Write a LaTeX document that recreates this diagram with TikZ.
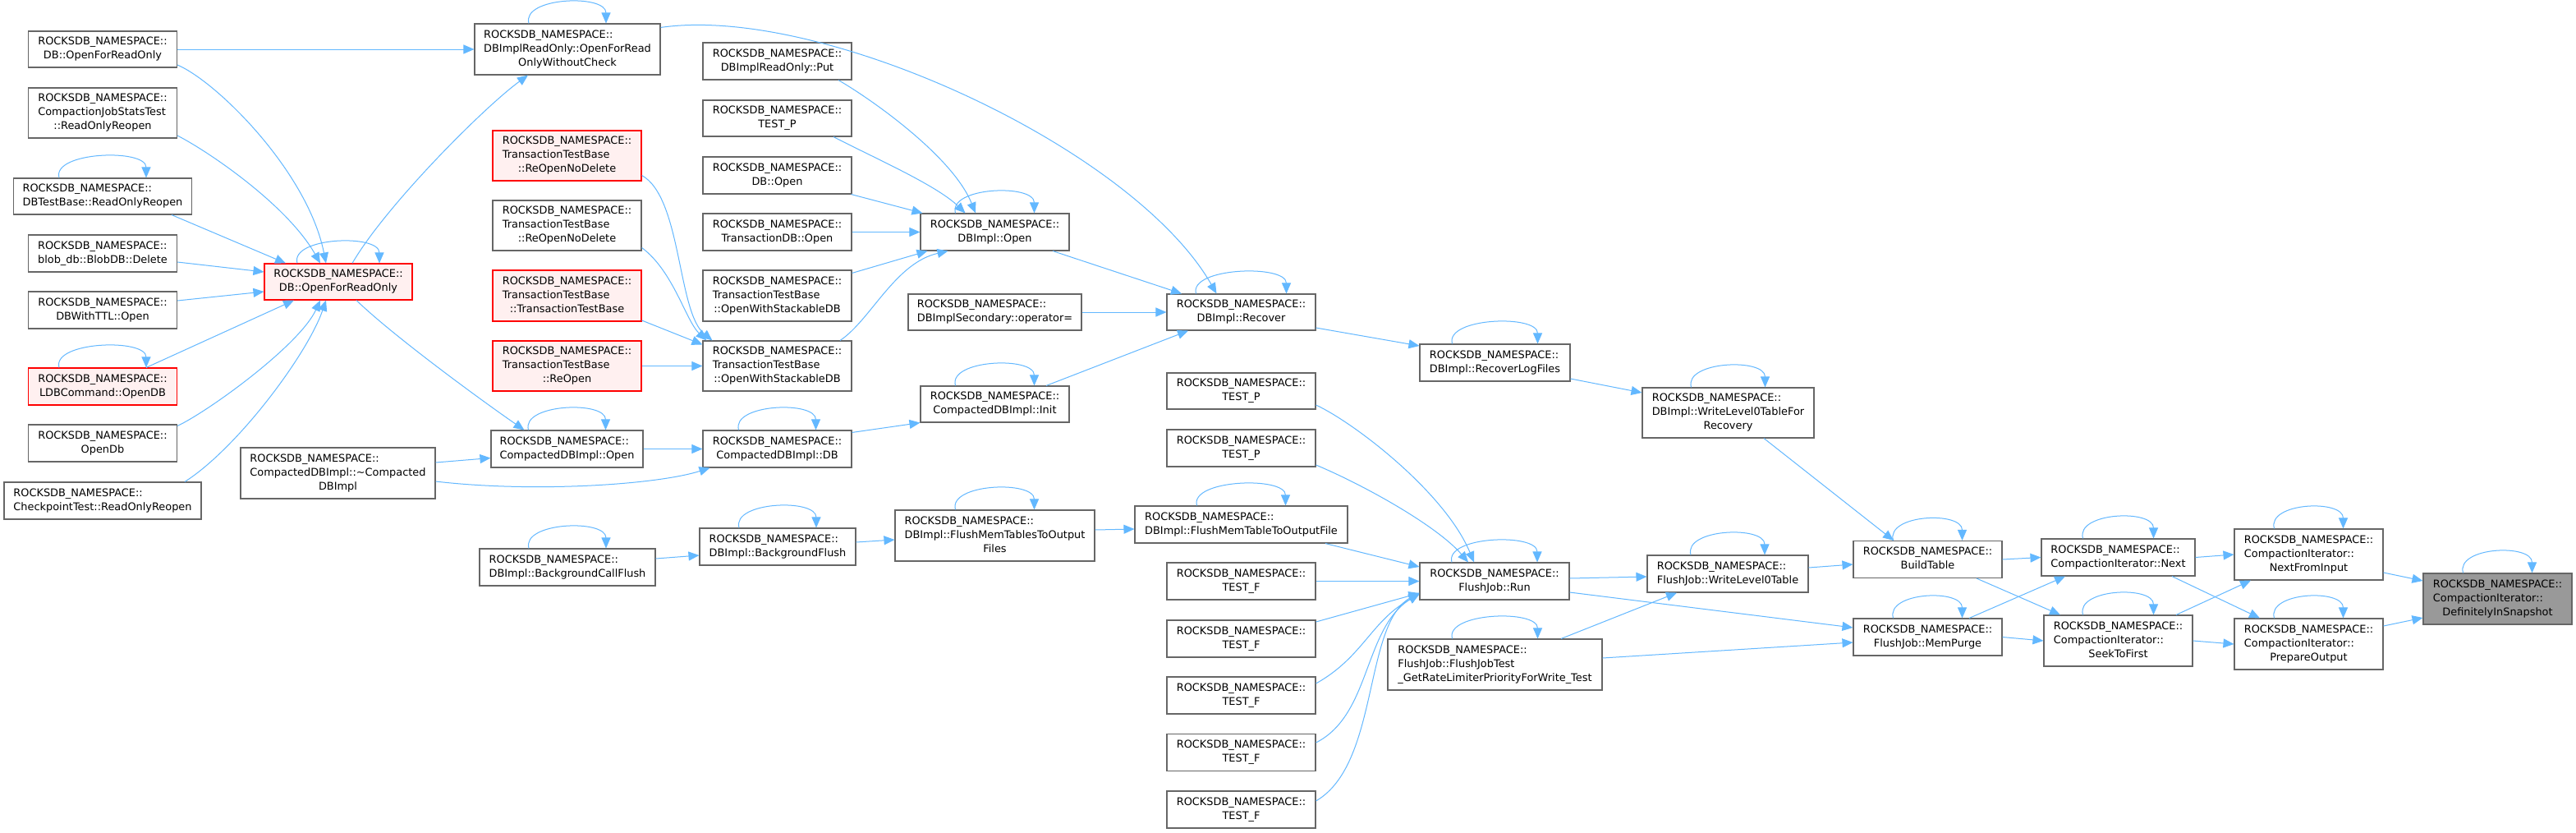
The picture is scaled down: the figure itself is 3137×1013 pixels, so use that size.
\documentclass[tikz,border=0pt]{standalone}
\usepackage{fontspec}
\setmainfont{DejaVu Sans}
\usetikzlibrary{arrows.meta}
\definecolor{edgec}{HTML}{63B8FF}
\definecolor{boxc}{HTML}{666666}
\definecolor{redc}{HTML}{FF0000}
\definecolor{redf}{HTML}{FFF0F0}
\definecolor{grayf}{HTML}{999999}
\newcommand{\LL}[2]{\begin{tabular}{@{}l@{}}#1\\\multicolumn{1}{@{}c@{}}{#2}\end{tabular}}
\newcommand{\LLL}[3]{\begin{tabular}{@{}l@{}}#1\\#2\\\multicolumn{1}{@{}c@{}}{#3}\end{tabular}}
\newcommand{\RN}{ROCKSDB\_NAMESPACE::}
\newcommand{\myloop}[2][47]{\draw[conn] ([xshift=-#1pt]#2.north) .. controls +(-9pt,32pt) and +(0pt,36pt) .. ([xshift=#1pt]#2.north);}
\tikzset{
  nd/.style={draw=boxc, fill=white, line width=1.1pt, inner sep=0pt, font=\fontsize{12.9}{17}\selectfont},
  redn/.style={nd, draw=redc, fill=redf},
  hin/.style={nd, fill=grayf},
  sz/.style 2 args={minimum width=#1pt, minimum height=#2pt},
  conn/.style={draw=edgec, line width=1pt, -{Triangle[length=13pt,width=11pt]}},
}
\begin{document}
\begin{tikzpicture}[x=1pt,y=-1pt]
\fill[white] (0,0) rectangle (3137,1013);
\useasboundingbox (0,0) rectangle (3137,1013);
% column A
\node[nd,sz={181}{44}] (a1) at (125,60) {\LL{\RN}{DB::OpenForReadOnly}};
\node[nd,sz={181}{61}] (a2) at (125,137.5) {\LLL{\RN}{CompactionJobStatsTest}{::ReadOnlyReopen}};
\node[nd,sz={217}{44}] (a3) at (125,239) {\LL{\RN}{DBTestBase::ReadOnlyReopen}};
\node[nd,sz={181}{45}] (a4) at (125,308.5) {\LL{\RN}{blob\_db::BlobDB::Delete}};
\node[nd,sz={181}{45}] (a5) at (125,377.5) {\LL{\RN}{DBWithTTL::Open}};
\node[redn,sz={181}{45}] (a6) at (125,470.5) {\LL{\RN}{LDBCommand::OpenDB}};
\node[nd,sz={181}{45}] (a7) at (125,539.5) {\LL{\RN}{OpenDb}};
\node[nd,sz={240}{45}] (a8) at (125,609.5) {\LL{\RN}{CheckpointTest::ReadOnlyReopen}};
% column B
\node[redn,sz={180}{44}] (b1) at (412,343) {\LL{\RN}{DB::OpenForReadOnly}};
\node[nd,sz={237}{62}] (b2) at (411.5,576) {\LLL{\RN}{CompactedDBImpl::\textasciitilde Compacted}{DBImpl}};
% column C
\node[nd,sz={226}{62}] (c1) at (691,60) {\LLL{\RN}{DBImplReadOnly::OpenForRead}{OnlyWithoutCheck}};
\node[redn,sz={181}{61}] (c2) at (690.5,189.5) {\LLL{\RN}{TransactionTestBase}{::ReOpenNoDelete}};
\node[nd,sz={181}{61}] (c3) at (690.5,274.5) {\LLL{\RN}{TransactionTestBase}{::ReOpenNoDelete}};
\node[redn,sz={181}{62}] (c4) at (690.5,360) {\LLL{\RN}{TransactionTestBase}{::TransactionTestBase}};
\node[redn,sz={181}{61}] (c5) at (690.5,445.5) {\LLL{\RN}{TransactionTestBase}{::ReOpen}};
\node[nd,sz={185}{45}] (c6) at (690.5,546.5) {\LL{\RN}{CompactedDBImpl::Open}};
\node[nd,sz={214}{45}] (c7) at (691,690.5) {\LL{\RN}{DBImpl::BackgroundCallFlush}};
% column D
\node[nd,sz={181}{45}] (d1) at (946.5,74.5) {\LL{\RN}{DBImplReadOnly::Put}};
\node[nd,sz={181}{44}] (d2) at (946.5,144) {\LL{\RN}{TEST\_P}};
\node[nd,sz={181}{45}] (d3) at (946.5,213.5) {\LL{\RN}{DB::Open}};
\node[nd,sz={181}{45}] (d4) at (946.5,282.5) {\LL{\RN}{TransactionDB::Open}};
\node[nd,sz={181}{62}] (d5) at (946.5,360) {\LLL{\RN}{TransactionTestBase}{::OpenWithStackableDB}};
\node[nd,sz={181}{61}] (d6) at (946.5,445.5) {\LLL{\RN}{TransactionTestBase}{::OpenWithStackableDB}};
\node[nd,sz={181}{45}] (d7) at (946.5,546.5) {\LL{\RN}{CompactedDBImpl::DB}};
\node[nd,sz={190}{45}] (d8) at (947,665.5) {\LL{\RN}{DBImpl::BackgroundFlush}};
% column E
\node[nd,sz={181}{45}] (e1) at (1211.5,282.5) {\LL{\RN}{DBImpl::Open}};
\node[nd,sz={211}{44}] (e2) at (1211.5,380) {\LL{\RN}{DBImplSecondary::operator=}};
\node[nd,sz={181}{44}] (e3) at (1211.5,492) {\LL{\RN}{CompactedDBImpl::Init}};
\node[nd,sz={243}{62}] (e4) at (1211.5,652) {\LLL{\RN}{DBImpl::FlushMemTablesToOutput}{Files}};
% column F
\node[nd,sz={181}{44}] (f1) at (1511.5,380) {\LL{\RN}{DBImpl::Recover}};
\node[nd,sz={181}{44}] (f2) at (1511.5,476) {\LL{\RN}{TEST\_P}};
\node[nd,sz={181}{45}] (f3) at (1511.5,545.5) {\LL{\RN}{TEST\_P}};
\node[nd,sz={259}{45}] (f4) at (1511.5,638.5) {\LL{\RN}{DBImpl::FlushMemTableToOutputFile}};
\node[nd,sz={181}{45}] (f5) at (1511.5,707.5) {\LL{\RN}{TEST\_F}};
\node[nd,sz={181}{45}] (f6) at (1511.5,777.5) {\LL{\RN}{TEST\_F}};
\node[nd,sz={181}{45}] (f7) at (1511.5,846.5) {\LL{\RN}{TEST\_F}};
\node[nd,sz={181}{45}] (f8) at (1511.5,916) {\LL{\RN}{TEST\_F}};
\node[nd,sz={181}{45}] (f9) at (1511.5,985.5) {\LL{\RN}{TEST\_F}};
% column G
\node[nd,sz={183}{45}] (g1) at (1820.5,441.5) {\LL{\RN}{DBImpl::RecoverLogFiles}};
\node[nd,sz={182}{45}] (g2) at (1820,707.5) {\LL{\RN}{FlushJob::Run}};
\node[nd,sz={261}{62}] (g3) at (1820.5,809) {\LLL{\RN}{FlushJob::FlushJobTest}{\_GetRateLimiterPriorityForWrite\_Test}};
% column H
\node[nd,sz={209}{61}] (h1) at (2104.5,502.5) {\LLL{\RN}{DBImpl::WriteLevel0TableFor}{Recovery}};
\node[nd,sz={196}{45}] (h2) at (2104,698.5) {\LL{\RN}{FlushJob::WriteLevel0Table}};
% column I
\node[nd,sz={181}{45}] (i1) at (2347.5,681) {\LL{\RN}{BuildTable}};
\node[nd,sz={181}{45}] (i2) at (2347.5,775.5) {\LL{\RN}{FlushJob::MemPurge}};
% column J
\node[nd,sz={187}{45}] (j1) at (2579.5,678.5) {\LL{\RN}{CompactionIterator::Next}};
\node[nd,sz={181}{62}] (j2) at (2579.5,780) {\LLL{\RN}{CompactionIterator::}{SeekToFirst}};
% column K
\node[nd,sz={181}{62}] (k1) at (2811.5,675) {\LLL{\RN}{CompactionIterator::}{NextFromInput}};
\node[nd,sz={181}{62}] (k2) at (2811.5,784) {\LLL{\RN}{CompactionIterator::}{PrepareOutput}};
% column L
\node[hin,sz={181}{62}] (l1) at (3041.5,729) {\LLL{\RN}{CompactionIterator::}{DefinitelyInSnapshot}};

% edges
\draw[conn] (a1.east) -- (c1.west);
\draw[conn] ([yshift=-19pt]a1.east) .. controls (265,100) and (375,210) .. ([xshift=-15pt]b1.north);
\draw[conn] ([yshift=-27.5pt]a2.east) .. controls (255,185) and (350,250) .. ([xshift=-22pt]b1.north);
\draw[conn] ([xshift=84pt]a3.south) -- ([xshift=-64pt]b1.north);
\draw[conn] ([yshift=-10.5pt]a4.east) -- ([yshift=12pt]b1.west);
\draw[conn] ([yshift=11.5pt]a5.east) -- ([yshift=-12pt]b1.west);
\draw[conn] ([xshift=53pt]a6.north) -- ([xshift=-54pt]b1.south);
\draw[conn] ([yshift=21pt]a7.east) .. controls (255,500) and (365,420) .. ([xshift=-22pt]b1.south);
\draw[conn] ([xshift=100pt]a8.north) .. controls (290,545) and (375,430) .. ([xshift=-15pt]b1.south);
\draw[conn] ([xshift=17pt]b1.north) .. controls (470,250) and (590,130) .. ([xshift=-48pt]c1.south);
\draw[conn] ([xshift=22pt]b1.south) .. controls (480,410) and (590,490) .. ([xshift=-52pt]c6.north);
\draw[conn] ([yshift=13pt]b2.east) -- ([yshift=-11pt]c6.west);
\draw[conn] ([yshift=-10pt]b2.east) .. controls (650,600) and (800,590) .. ([xshift=-82pt]d7.south);
\draw[conn] ([yshift=-24pt]c2.east) .. controls (830,240) and (825,380) .. ([xshift=12pt]d6.north west);
\draw[conn] ([yshift=-27pt]c3.east) .. controls (820,330) and (835,390) .. ([xshift=5pt]d6.north west);
\draw[conn] ([yshift=-30pt]c4.east) -- ([yshift=-5pt]d6.north west);
\draw[conn] (c5.east) -- (d6.west);
\draw[conn] (c6.east) -- (d7.west);
\draw[conn] ([yshift=10.5pt]c7.east) -- ([yshift=-10.5pt]d8.west);
\draw[conn] ([xshift=74.5pt]d1.south) .. controls (1060,120) and (1160,190) .. ([xshift=-23.5pt]e1.north);
\draw[conn] ([xshift=68.5pt]d2.south) .. controls (1060,190) and (1140,225) .. ([xshift=-36pt]e1.north);
\draw[conn] ([xshift=-1pt]d3.south east) -- ([xshift=3pt]e1.north west);
\draw[conn] (d4.east) -- (e1.west);
\draw[conn] ([yshift=-4pt]d5.north east) -- ([xshift=9pt]e1.south west);
\draw[conn] ([xshift=76.5pt]d6.north) .. controls (1060,390) and (1090,320) .. ([xshift=-57pt]e1.south);
\draw[conn] ([xshift=70.5pt]e1.south) -- ([xshift=-72.5pt]f1.north);
\draw[conn] (e2.east) -- (f1.west);
\draw[conn] ([xshift=62.5pt]e3.north) -- ([xshift=-64.5pt]f1.south);
\draw[conn] ([yshift=-5pt]c1.north east) .. controls (1000,5) and (1380,180) .. ([xshift=-30pt]f1.north);
\draw[conn] ([yshift=-3pt]d7.north east) -- (e3.south west);
\draw[conn] ([yshift=5.5pt]d8.east) -- ([yshift=-5pt]e4.west);
\draw[conn] ([yshift=7pt]e4.east) -- ([yshift=-5.5pt]f4.west);
\draw[conn] ([yshift=-19pt]f1.east) -- ([yshift=20.5pt]g1.west);
\draw[conn] ([yshift=-19.5pt]g1.east) -- ([yshift=24.5pt]h1.west);
\draw[conn] ([xshift=43.5pt]h1.south) -- ([xshift=-41.5pt]i1.north);
\draw[conn] ([yshift=-17pt]f2.east) .. controls (1650,515) and (1760,600) .. ([xshift=-25pt]g2.north);
\draw[conn] ([yshift=-20.5pt]f3.east) .. controls (1660,590) and (1750,640) .. ([xshift=-32pt]g2.north);
\draw[conn] ([xshift=102.5pt]f4.south) -- ([yshift=17.5pt]g2.west);
\draw[conn] (f5.east) -- (g2.west);
\draw[conn] ([yshift=20.5pt]f6.east) -- ([yshift=-14.5pt]g2.west);
\draw[conn] ([yshift=14.5pt]f7.east) .. controls (1660,800) and (1670,755) .. ([yshift=-16pt]g2.west);
\draw[conn] ([yshift=12pt]f8.east) .. controls (1670,870) and (1660,765) .. ([yshift=-15pt]g2.west);
\draw[conn] ([yshift=10.5pt]f9.east) .. controls (1680,930) and (1660,760) .. ([yshift=-14pt]g2.west);
\draw[conn] ([yshift=3.5pt]g2.east) -- ([yshift=-3.5pt]h2.west);
\draw[conn] ([yshift=-13.5pt]g2.east) -- ([yshift=11.5pt]i2.west);
\draw[conn] ([xshift=80.5pt]g3.north) -- ([xshift=-62pt]h2.south);
\draw[conn] ([yshift=8pt]g3.east) -- ([yshift=-6.5pt]i2.west);
\draw[conn] ([yshift=7.5pt]h2.east) -- ([yshift=-6pt]i1.west);
\draw[conn] (i1.east) -- (j1.west);
\draw[conn] ([xshift=59.5pt]i1.south) -- ([xshift=-70.5pt]j2.north);
\draw[conn] ([xshift=50.5pt]i2.north) -- ([xshift=-64.5pt]j1.south);
\draw[conn] (i2.east) -- (j2.west);
\draw[conn] (j1.east) -- (k1.west);
\draw[conn] ([xshift=65.5pt]j1.south) -- ([xshift=-59.5pt]k2.north);
\draw[conn] ([xshift=70.5pt]j2.north) -- ([xshift=-70.5pt]k1.south);
\draw[conn] (j2.east) -- (k2.west);
\draw[conn] ([yshift=-22pt]k1.east) -- ([yshift=22pt]l1.west);
\draw[conn] ([yshift=22pt]k2.east) -- ([yshift=-23pt]l1.west);

% self loops
\myloop[53]{a3}
\myloop[53]{a6}
\myloop[50]{b1}
\myloop[47]{c1}
\myloop[47]{c6}
\myloop[47]{c7}
\myloop[47]{d7}
\myloop[47]{d8}
\myloop[48]{e1}
\myloop[48]{e3}
\myloop[48]{e4}
\myloop[55]{f1}
\myloop[54]{f4}
\myloop[52]{g1}
\myloop[52]{g2}
\myloop[52]{g3}
\myloop[45]{h1}
\myloop[45]{h2}
\myloop[42]{i1}
\myloop[42]{i2}
\myloop[43]{j1}
\myloop[43]{j2}
\myloop[42]{k1}
\myloop[42]{k2}
\myloop[42]{l1}
\end{tikzpicture}
\end{document}
